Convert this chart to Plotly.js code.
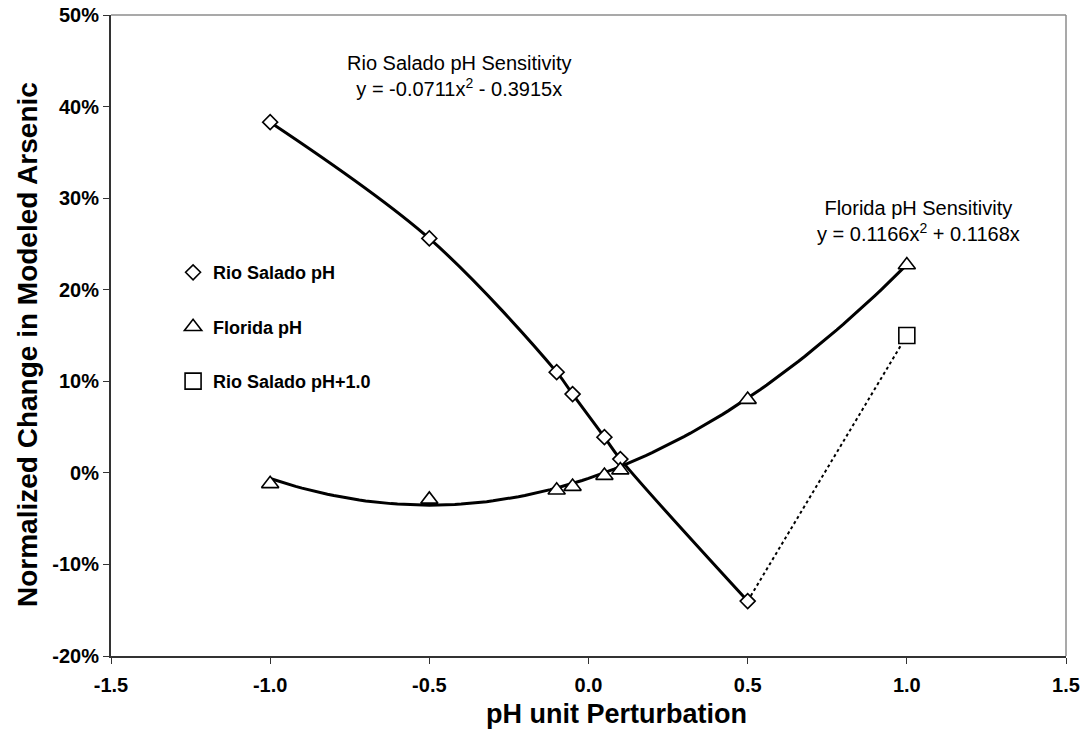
<!DOCTYPE html>
<html><head><meta charset="utf-8">
<script src="https://cdn.plot.ly/plotly-3.0.1.min.js"></script>
<style>html,body{margin:0;padding:0;background:#fff}#chart{width:1090px;height:744px}</style>
</head><body><div id="chart"></div>
<script>
// ---- data ----
const rioX = [-1.0, -0.5, -0.1, -0.05, 0.05, 0.1, 0.5];
const rioY = [0.383, 0.256, 0.110, 0.086, 0.039, 0.015, -0.140];
const flX = [-1.0, -0.5, -0.1, -0.05, 0.05, 0.1, 0.5, 1.0];
const flY = [-0.012, -0.029, -0.019, -0.015, -0.003, 0.003, 0.080, 0.227];
const plusX = [0.5, 1.0];
const plusY = [-0.140, 0.150];
// Florida trendline as drawn: y = a x^2 + b x + c (a, b as printed; c)
const flTrendCoef = [0.1166, 0.1168, -0.006];
const seriesNames = ['Rio Salado pH', 'Florida pH', 'Rio Salado pH+1.0'];
const xTickVals = [-1.5, -1.0, -0.5, 0.0, 0.5, 1.0, 1.5];
const xTickText = ['-1.5', '-1.0', '-0.5', '0.0', '0.5', '1.0', '1.5'];
const yTickVals = [-0.2, -0.1, 0, 0.1, 0.2, 0.3, 0.4, 0.5];
const yTickText = ['-20%', '-10%', '0%', '10%', '20%', '30%', '40%', '50%'];
const xTitle = 'pH unit Perturbation';
const yTitle = 'Normalized Change in Modeled Arsenic';
const rioLabel = 'Rio Salado pH Sensitivity<br>y = -0.0711x<sup>2</sup> - 0.3915x';
const flLabel = 'Florida pH Sensitivity<br>y = 0.1166x<sup>2</sup> + 0.1168x';

// Florida trendline drawn from its equation
const tMin = Math.min(...flX), tMax = Math.max(...flX);
const trendX = [], trendY = [];
for (let i = 0; i <= 100; i++) {
  const x = tMin + (tMax - tMin) * i / 100;
  trendX.push(x);
  trendY.push(flTrendCoef[0] * x * x + flTrendCoef[1] * x + flTrendCoef[2]);
}

const FONT = 'Liberation Sans, Arial, sans-serif';
const mk = (sym, size) => ({symbol: sym, size: size, color: '#fff', line: {color: '#000', width: 1.6}});

const traces = [
  {x: trendX, y: trendY, mode: 'lines', line: {color: '#000', width: 3}, showlegend: false, hoverinfo: 'skip'},
  {x: rioX, y: rioY, mode: 'lines', line: {color: '#000', width: 3, shape: 'spline', smoothing: 1}, showlegend: false, hoverinfo: 'skip'},
  {x: plusX, y: plusY, mode: 'lines', line: {color: '#000', width: 2, dash: 'dot'}, showlegend: false, hoverinfo: 'skip'},
  {x: plusX.slice(1), y: plusY.slice(1), mode: 'markers', name: seriesNames[2], legendgroup: 'c', marker: mk('square', 16), legendrank: 3},
  {x: rioX, y: rioY, mode: 'markers', name: seriesNames[0], legendgroup: 'a', marker: mk('diamond', 11.5), legendrank: 1},
  {x: flX, y: flY, mode: 'markers', name: seriesNames[1], legendgroup: 'b', marker: mk('triangle-up', 15), legendrank: 2}
];

const layout = {
  width: 1090, height: 744,
  margin: {l: 111, r: 24, t: 15, b: 88},
  paper_bgcolor: '#fff', plot_bgcolor: '#fff',
  font: {family: FONT, color: '#000'},
  showlegend: true,
  legend: {x: 0.065, y: 0.627, xanchor: 'left', yanchor: 'top', bgcolor: 'rgba(0,0,0,0)',
           font: {family: FONT, size: 18, color: '#000', weight: 'bold'}, itemwidth: 30,
           tracegroupgap: 28, traceorder: 'grouped'},
  xaxis: {range: [-1.5, 1.5], tickvals: xTickVals, ticktext: xTickText, ticks: 'outside', ticklen: 6,
          tickcolor: '#333', showgrid: false, zeroline: false, showline: true, linecolor: '#333', linewidth: 2,
          ticklabelstandoff: 4,
          tickfont: {family: FONT, size: 20, weight: 'bold'}},
  yaxis: {range: [-0.2, 0.5], tickvals: yTickVals, ticktext: yTickText, ticks: 'outside', ticklen: 6,
          tickcolor: '#333', showgrid: false, zeroline: false, showline: true, linecolor: '#333', linewidth: 2,
          tickfont: {family: FONT, size: 20, weight: 'bold'}},
  shapes: [
    {type: 'line', xref: 'paper', yref: 'paper', x0: 0, x1: 1, y0: 1, y1: 1, line: {color: '#8c8c8c', width: 1.5}},
    {type: 'line', xref: 'paper', yref: 'paper', x0: 1, x1: 1, y0: 0, y1: 1, line: {color: '#8c8c8c', width: 1.5}}
  ],
  annotations: [
    {x: -0.404, y: 0.433, xref: 'x', yref: 'y', text: rioLabel, showarrow: false,
     font: {family: FONT, size: 20, color: '#000'}, align: 'center'},
    {x: 1.038, y: 0.275, xref: 'x', yref: 'y', text: flLabel, showarrow: false,
     font: {family: FONT, size: 20, color: '#000'}, align: 'center'},
    {x: (616 - 111) / 955, y: -(714 - 656) / 641, xref: 'paper', yref: 'paper', text: xTitle, showarrow: false,
     font: {family: FONT, size: 27, weight: 'bold', color: '#000'}, xanchor: 'center', yanchor: 'middle'},
    {x: -(111 - 27) / 955, y: 1 - (345 - 15) / 641, xref: 'paper', yref: 'paper', text: yTitle, showarrow: false,
     textangle: -90, font: {family: FONT, size: 28, weight: 'bold', color: '#000'}, xanchor: 'center', yanchor: 'middle'}
  ]
};

Plotly.newPlot('chart', traces, layout, {staticPlot: true, displayModeBar: false});
</script>
</body></html>
